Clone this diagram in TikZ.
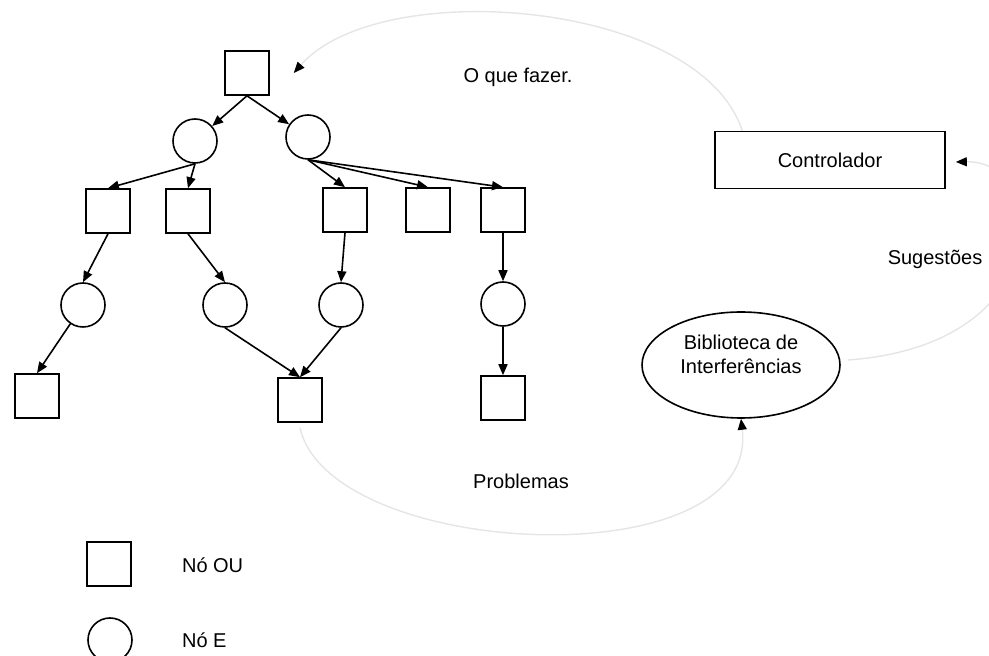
\documentclass[tikz,border=0pt]{standalone}
\usepackage{fontspec}
\setmainfont{Liberation Sans}
\usetikzlibrary{positioning, shapes.geometric, arrows.meta, calc}

\begin{document}
\begin{tikzpicture}[
            x=0.5pt, y=-0.5pt,
            every node/.style={font=\fontsize{10}{12}\selectfont},
            ounode/.style={draw=black, line width=0.8pt, rectangle, minimum size=22pt, inner sep=0pt},
            enode/.style={draw=black, line width=0.8pt, circle, minimum size=22pt, inner sep=0pt},
            edge/.style={line width=0.8pt, -{Triangle[length=5.5pt, width=4.5pt]}},
            fluxo/.style={line width=0.7pt, draw=black!10, -{Triangle[length=5.5pt, width=4.5pt, color=black]}},
            caixa/.style={draw=black, line width=0.8pt, rectangle, minimum width=115pt, minimum height=28.5pt}
        ]
        \useasboundingbox (0,0) rectangle (989,656);

        % Nós da árvore
        \node[ounode] (raiz) at (247,73) {};
        \node[enode] (e1) at (195,141) {};
        \node[enode] (e2) at (308,137) {};
        \node[ounode] (ou1) at (108,211) {};
        \node[ounode] (ou2) at (188,211) {};
        \node[ounode] (ou3) at (345,210) {};
        \node[ounode] (ou4) at (428,210) {};
        \node[ounode] (ou5) at (503,210) {};
        \node[enode] (e3) at (83,305) {};
        \node[enode] (e4) at (225,305) {};
        \node[enode] (e5) at (341,305) {};
        \node[enode] (e6) at (503,304) {};
        \node[ounode] (ou6) at (37,396) {};
        \node[ounode] (ou7) at (300,400) {};
        \node[ounode] (ou8) at (503,398) {};

        % Controlador e biblioteca
        \node[caixa] (ctrl) at (830,160) {Controlador};
        \node[draw=black, line width=0.8pt, ellipse, minimum width=99pt, minimum height=53pt, inner sep=0pt] (lib) at (741,365) {};
        \node[align=center] (libtxt) at (741,354) {Biblioteca de\\Interferências};

        % Arestas
        \draw[edge] (raiz.south) -- (e1);
        \draw[edge] (raiz.south) -- (e2);
        \draw[edge] (e1.south) -- (ou1.north);
        \draw[edge] (e1.south) -- (ou2.north);
        \draw[edge] (e2.south) -- (ou3.north);
        \draw[edge] (e2.south) -- (ou4.north);
        \draw[edge] (e2.south) -- (ou5.north);
        \draw[edge] (ou1.south) -- (e3.north);
        \draw[edge] (ou2.south) -- (e4.north);
        \draw[edge] (ou3.south) -- (e5.north);
        \draw[edge] (ou5.south) -- (e6.north);
        \draw[edge] (e3) -- (ou6.north);
        \draw[edge] (e4.south) -- (ou7.north);
        \draw[edge] (e5.south) -- (ou7.north);
        \draw[edge] (e6.south) -- (ou8.north);

        % Ciclo controlador - biblioteca - árvore
        \draw[fluxo] ([xshift=14pt]ctrl.north west) .. controls (700,0) and (380,-25) .. ($(raiz.east)+(24,0)$);
        \draw[fluxo] ($(lib.east)+(7,-5)$) .. controls (1060,345) and (1050,160) .. ($(ctrl.east)+(10,2)$);
        \draw[fluxo] ($(ou7.south)+(0,5)$) .. controls (330,560) and (760,580) .. (lib.south);
        \node (fazer) at (518,77) {O que fazer.};
        \node (sug) at (935,259) {Sugestões};
        \node (prob) at (521,481) {Problemas};

        % Legenda
        \node[ounode] (legou) at (109,564) {};
        \node[enode] (lege) at (110,640) {};
        \node[anchor=west] (legoutxt) at (175,565) {Nó OU};
        \node[anchor=west] (legetxt) at (175,640) {Nó E};

    \end{tikzpicture}
\end{document}
